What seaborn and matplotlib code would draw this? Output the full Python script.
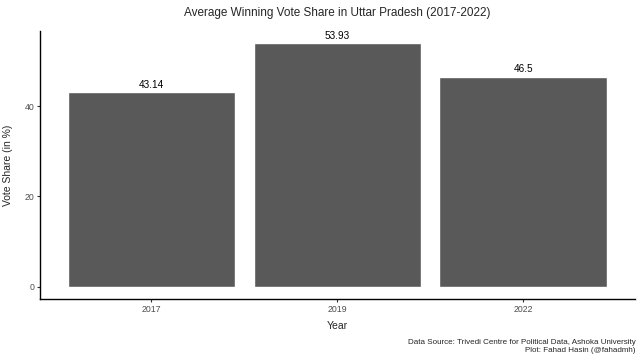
import matplotlib
matplotlib.use("Agg")
import matplotlib.pyplot as plt
import seaborn as sns
import pandas as pd

# data
years = ["2017", "2019", "2022"]
vote_share = [43.14, 53.93, 46.5]
bar_labels = ["43.14", "53.93", "46.5"]

df = pd.DataFrame({"Year": years, "Share": vote_share})

sns.set_style("white")
plt.rcParams["font.family"] = ["Liberation Sans", "DejaVu Sans"]

fig = plt.figure(figsize=(6.4, 3.63), dpi=100)
ax = fig.add_axes([0.0625, 0.176, 0.929, 0.739])

sns.barplot(data=df, x="Year", y="Share", color="#595959", saturation=1,
            width=0.9, ax=ax)

# value labels on top of bars
for i, (v, lab) in enumerate(zip(vote_share, bar_labels)):
    ax.text(i, v + 0.5, lab, ha="center", va="bottom", fontsize=7.2, color="black")

ax.set_xlim(-0.6, 2.6)
ax.set_ylim(-0.05 * max(vote_share), max(vote_share) * 1.05)
ax.set_yticks([0, 20, 40])

for s in ["top", "right"]:
    ax.spines[s].set_visible(False)
for s in ["left", "bottom"]:
    ax.spines[s].set_color("black")
    ax.spines[s].set_linewidth(1.0)

ax.tick_params(axis="both", which="both", length=2.5, width=0.8, color="#333333",
               labelsize=6.3, labelcolor="#4D4D4D", pad=1.5, direction="out")
ax.tick_params(left=True, bottom=True)

ax.set_xlabel("Year", fontsize=7.5)
ax.set_ylabel("Vote Share (in %)", fontsize=7.5)
ax.xaxis.set_label_coords(0.5, -0.082)
ax.yaxis.set_label_coords(-0.046, 0.5)

fig.text(0.527, 0.965, "Average Winning Vote Share in Uttar Pradesh (2017-2022)",
         ha="center", va="center", fontsize=8.5)

fig.text(0.993, 0.045, "Data Source: Trivedi Centre for Political Data, Ashoka University\nPlot: Fahad Hasin (@fahadmh)",
         ha="right", va="center", fontsize=5.8, linespacing=1.15)

fig.savefig("out.png", dpi=100)
